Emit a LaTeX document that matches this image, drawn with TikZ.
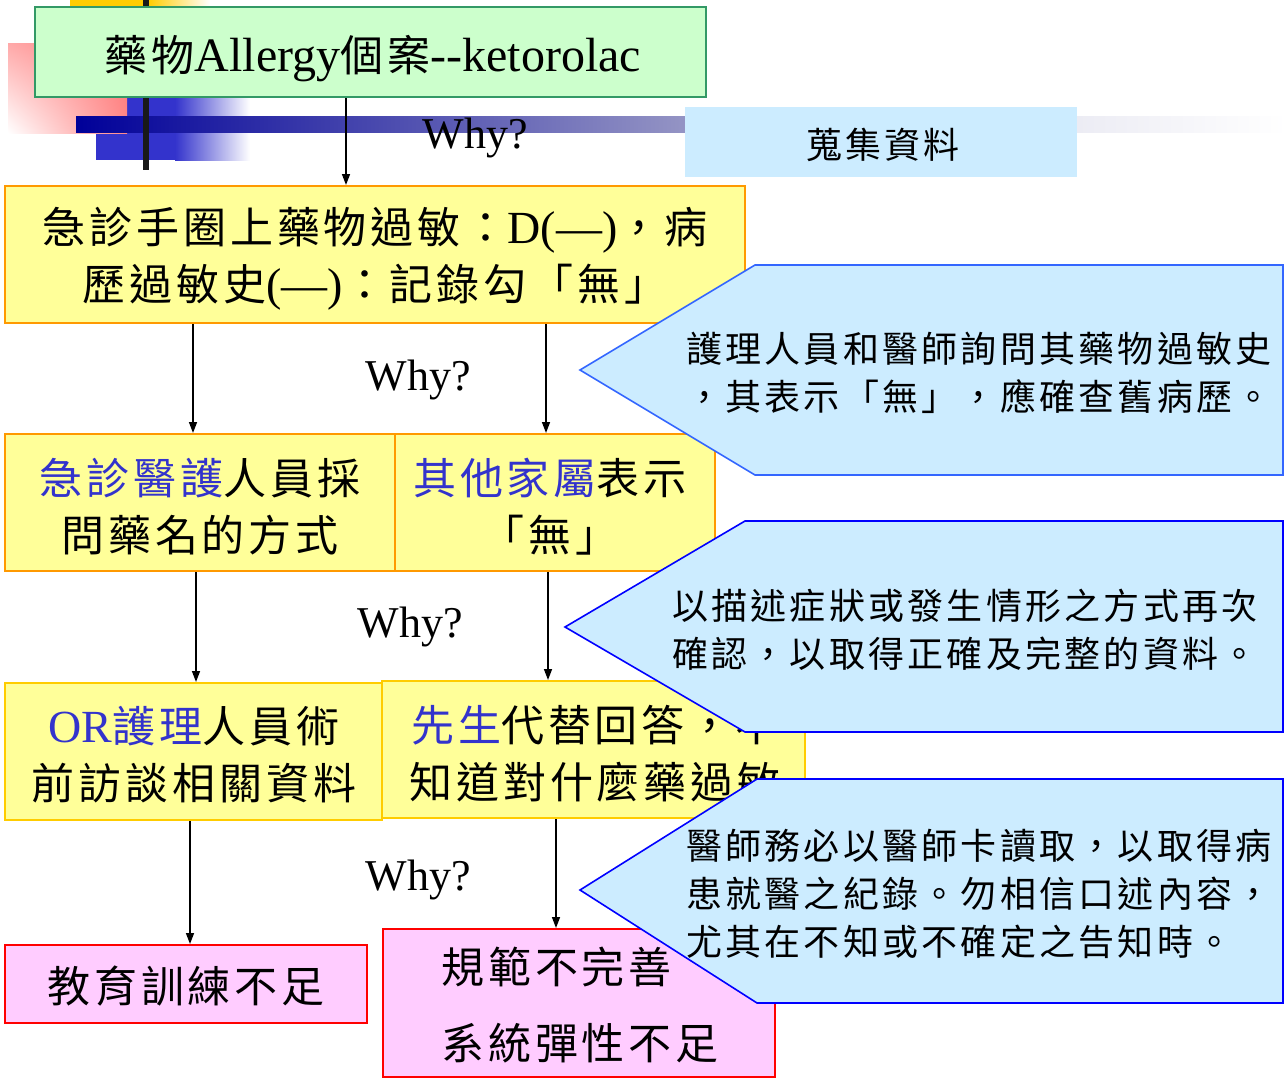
\documentclass[tikz,border=0pt]{standalone}
\usepackage{fontspec}
\setmainfont{Liberation Serif}
\newfontfamily\cjk{Noto Sans CJK TC}[LetterSpace=9]
\usetikzlibrary{arrows.meta,calc,shadings}
\definecolor{ttlfill}{HTML}{CCFFCC}
\definecolor{ttldraw}{HTML}{339966}
\definecolor{yfill}{HTML}{FFFF99}
\definecolor{ydrawA}{HTML}{FF9900}
\definecolor{ydrawB}{HTML}{FFCC00}
\definecolor{pfill}{HTML}{FFCCFF}
\definecolor{pdraw}{HTML}{FF0000}
\definecolor{cfill}{HTML}{CCECFF}
\definecolor{cdrawA}{HTML}{3366FF}
\definecolor{cdrawB}{HTML}{0000FF}
\definecolor{kblue}{HTML}{3333CC}
\definecolor{decoyel}{HTML}{FFCC00}
\definecolor{decoblue}{HTML}{3333CC}
\definecolor{navy}{HTML}{000099}
\definecolor{barmid}{HTML}{9494C4}
\definecolor{barlight}{HTML}{ECECF4}
\definecolor{pinkA}{HTML}{FF7777}
\definecolor{pinkB}{HTML}{FFAAAA}
\definecolor{pinkC}{HTML}{FF8888}
\newcommand\latn[1]{{\rmfamily\fontsize{46}{57}\selectfont #1}}
\newcommand\latt[1]{{\rmfamily\fontsize{48}{57}\selectfont #1}}
\begin{document}
\begin{tikzpicture}[x=1pt,y=-1pt,
  ttlbox/.style={draw=ttldraw,fill=ttlfill,line width=2pt,inner sep=0pt},
  yboxA/.style={draw=ydrawA,fill=yfill,line width=2pt,inner sep=0pt},
  yboxB/.style={draw=ydrawB,fill=yfill,line width=2pt,inner sep=0pt},
  pbox/.style={draw=pdraw,fill=pfill,line width=2pt,inner sep=0pt},
  gbox/.style={fill=cfill,inner sep=0pt},
  calloutA/.style={draw=cdrawA,fill=cfill,line width=1.6pt,line join=miter},
  calloutB/.style={draw=cdrawB,fill=cfill,line width=1.6pt,line join=miter},
  mtext/.style={font=\fontsize{43}{57}\selectfont\cjk,align=center,inner sep=0pt},
  ctext/.style={font=\fontsize{36}{48}\selectfont\cjk,align=left,inner sep=0pt},
  why/.style={font=\rmfamily\fontsize{44}{50}\selectfont,inner sep=0pt},
  flow/.style={line width=1.5pt,-{Triangle[length=11pt,width=8pt]}}
]
\useasboundingbox (0,0) rectangle (1287,1081);
% decorations
\fill[decoyel] (70,0) rectangle (148,8);
\shade[left color=decoyel,right color=white] (148,0) rectangle (210,8);
\fill[decoblue] (96,98) rectangle (175,160);
\shade[left color=decoblue,right color=white] (175,98) rectangle (250,160);
\shade[upper left=pinkB,upper right=pinkA,lower left=white,lower right=pinkC] (8,44) rectangle (127,133);
\shade[left color=navy,right color=barmid] (76,116) rectangle (685,132);
\shade[left color=barmid,right color=barlight] (685,116) rectangle (1077,132);
\shade[left color=barlight,right color=white] (1077,116) rectangle (1287,132);
\fill[black!90] (143,0) rectangle (149,170);

% title
\node[ttlbox,minimum width=671pt,minimum height=90pt] (title) at (370.5,52) {};
\node[mtext] (titlet) at (373,59) {藥物\latt{Allergy}個案\latt{-\kern0pt-ketorolac}};

% collect box
\node[gbox,minimum width=392pt,minimum height=70pt] (collect) at (881,142) {};
\node[ctext] (collectt) at (883,145) {蒐集資料};

% boxes
\node[yboxA,minimum width=740pt,minimum height=137pt] (b1) at (375,254.5) {};
\node[mtext] (b1t) at (375,259) {急診手圈上藥物過敏：\latn{D(—)}，病\\歷過敏史\latn{(—)}：記錄勾「無」};

\node[yboxA,minimum width=390pt,minimum height=137pt] (b2a) at (200,502.5) {};
\node[mtext] (b2at) at (200,506.5) {{\color{kblue}急診醫護}人員採\\問藥名的方式};
\node[yboxA,minimum width=320pt,minimum height=137pt] (b2b) at (555,502.5) {};
\node[mtext] (b2bt) at (550,506.5) {{\color{kblue}其他家屬}表示\\「無」};

\node[yboxB,minimum width=377pt,minimum height=137pt] (b3a) at (193.5,751.5) {};
\node[mtext] (b3at) at (194,754.5) {\latn{\color{kblue}OR}{\color{kblue}護理}人員術\\前訪談相關資料};
\node[yboxB,minimum width=423pt,minimum height=137pt] (b3b) at (593.5,749.5) {};
\node[mtext] (b3bt) at (595,754) {{\color{kblue}先生}代替回答，不\\知道對什麼藥過敏};

\node[pbox,minimum width=362pt,minimum height=78pt] (p4a) at (186,984) {};
\node[mtext] (p4at) at (186,986) {教育訓練不足};
\node[pbox,minimum width=392pt,minimum height=148pt] (p4b) at (579,1003) {};
\node[mtext,align=left,font=\fontsize{43}{76}\selectfont\cjk] (p4bt) at (580,1005) {規範不完善\\系統彈性不足};

% arrows
\draw[flow] ([xshift=312pt]title.south west) -- ([xshift=342pt]b1.north west);
\draw[flow] ([xshift=189pt]b1.south west) -- ([xshift=189pt]b2a.north west);
\draw[flow] ([xshift=542pt]b1.south west) -- ([xshift=152pt]b2b.north west);
\draw[flow] ([xshift=192pt]b2a.south west) -- ([xshift=192pt]b3a.north west);
\draw[flow] ([xshift=154pt]b2b.south west) -- ([xshift=167pt]b3b.north west);
\draw[flow] ([xshift=186pt]b3a.south west) -- ([xshift=186pt]p4a.north west);
\draw[flow] ([xshift=175pt]b3b.south west) -- ([xshift=174pt]p4b.north west);

% why labels
\node[why] (w1) at (475,138) {Why?};
\node[why] (w2) at (418,380) {Why?};
\node[why] (w3) at (410,627) {Why?};
\node[why] (w4) at (418,880) {Why?};

% callouts
\draw[calloutA] (580,370) -- (755,265) -- (1283,265) -- (1283,475) -- (755,475) -- cycle;
\node[ctext,anchor=west] (c1t) at (686,372.5) {護理人員和醫師詢問其藥物過敏史\\，其表示「無」，應確查舊病歷。};
\draw[calloutB] (565,627) -- (745,521) -- (1283,521) -- (1283,732) -- (745,732) -- cycle;
\node[ctext,anchor=west] (c2t) at (672,629.5) {以描述症狀或發生情形之方式再次\\確認，以取得正確及完整的資料。};
\draw[calloutB] (580,890) -- (757,779) -- (1283,779) -- (1283,1003) -- (757,1003) -- cycle;
\node[ctext,anchor=west] (c3t) at (686,893.5) {醫師務必以醫師卡讀取，以取得病\\患就醫之紀錄。勿相信口述內容，\\尤其在不知或不確定之告知時。};
\end{tikzpicture}
\end{document}
